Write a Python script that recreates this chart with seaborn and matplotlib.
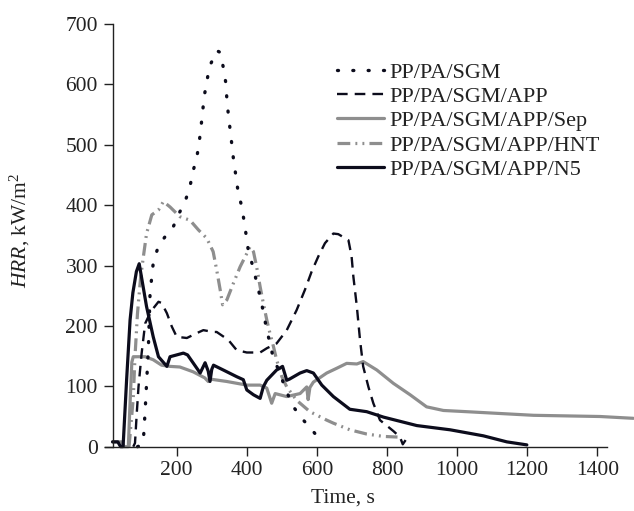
import matplotlib
matplotlib.use("Agg")
import matplotlib.pyplot as plt
import seaborn as sns
import pandas as pd

# Heat release rate curves (time in s, HRR in kW/m2)
sgm_t = [88, 100, 105, 110, 119, 124, 133, 147, 167, 190, 209, 224, 238, 246, 257, 264, 269,
         274, 278, 286, 293, 306, 314, 324, 333, 340, 343, 347, 352, 357, 362, 368, 374, 384,
         392, 398, 404, 417, 428, 438, 447, 455, 466, 476, 495, 509, 533, 557, 590, 605]
sgm_hrr = [0, 3, 11, 60, 160, 254, 304, 331, 348, 364, 389, 406, 431, 455, 478, 503, 528,
           554, 579, 604, 629, 645, 656, 653, 628, 603, 577, 552, 527, 502, 476, 452, 427, 401,
           375, 351, 326, 299, 273, 248, 224, 199, 171, 146, 122, 97, 66, 47, 25, 14]

app_t = [76, 81, 86, 91, 100, 110, 119, 133, 148, 157, 172, 186, 200, 229, 257, 276, 304, 314,
         347, 371, 400, 438, 457, 485, 514, 542, 566, 585, 604, 623, 647, 661, 690, 699, 704,
         714, 723, 732, 747, 761, 780, 818, 837, 845, 852, 858]
app_hrr = [0, 6, 55, 99, 155, 204, 215, 229, 240, 238, 221, 199, 182, 180, 188, 193, 190, 190,
           177, 160, 156, 156, 163, 171, 193, 226, 260, 290, 315, 337, 353, 352, 342, 315, 282,
           232, 177, 133, 99, 72, 44, 26, 16, 4, 10, 15]

sep_t = [17, 44, 50, 62, 66, 72, 76, 110, 133, 157, 181, 209, 247, 280, 290, 295, 343, 400,
         438, 457, 471, 481, 514, 552, 571, 575, 580, 590, 628, 657, 685, 714, 732, 771, 818,
         866, 913, 961, 1027, 1122, 1218, 1313, 1408, 1503]
sep_hrr = [8, 8, 0, 0, 60, 140, 149, 149, 144, 135, 133, 132, 124, 114, 108, 112, 108, 102,
           102, 97, 72, 88, 83, 88, 99, 78, 98, 107, 122, 130, 138, 137, 141, 127, 105,
           86, 66, 60, 58, 55, 52, 51, 50, 47]

hnt_t = [64, 76, 81, 88, 97, 105, 114, 129, 148, 162, 181, 209, 238, 262, 286, 304, 314, 324,
         331, 343, 362, 381, 400, 409, 419, 428, 438, 447, 457, 466, 476, 485, 500, 514, 542,
         580, 628, 647, 694, 742, 790, 830]
hnt_hrr = [0, 80, 149, 220, 280, 315, 353, 384, 392, 406, 397, 381, 375, 359, 345, 323, 293,
           260, 235, 243, 271, 298, 320, 331, 323, 298, 265, 238, 210, 188, 166, 144, 116, 99,
           77, 58, 44, 39, 28, 21, 17, 16]

n5_t = [17, 32, 40, 47, 57, 67, 75, 85, 93, 114, 133, 148, 172, 181, 219, 231, 267, 281, 290,
        295, 300, 305, 333, 371, 390, 400, 419, 438, 447, 457, 485, 502, 514, 522, 552, 571,
        590, 614, 647, 694, 742, 790, 885, 980, 1075, 1142, 1199]
n5_hrr = [8, 8, 0, 0, 110, 210, 255, 290, 303, 232, 182, 149, 133, 149, 155, 152, 122, 139,
          125, 108, 128, 135, 127, 116, 111, 94, 86, 80, 99, 110, 127, 133, 110, 112, 122, 126,
          122, 102, 83, 62, 58, 49, 35, 28, 18, 8, 3]

labels = ["PP/PA/SGM", "PP/PA/SGM/APP", "PP/PA/SGM/APP/Sep",
          "PP/PA/SGM/APP/HNT", "PP/PA/SGM/APP/N5"]
y_ticks = [0, 100, 200, 300, 400, 500, 600, 700]
x_ticks = [200, 400, 600, 800, 1000, 1200, 1400]

BLACK = "#0c0c1c"
GREY = "#8e8e8e"

sns.set_style("ticks")
plt.rcParams["font.family"] = ["Liberation Serif", "DejaVu Serif"]
plt.rcParams["mathtext.fontset"] = "custom"
plt.rcParams["mathtext.rm"] = "Liberation Serif"
plt.rcParams["mathtext.it"] = "Liberation Serif:italic"

fig = plt.figure(figsize=(6.34, 5.11), dpi=100)
ax = fig.add_axes([0.16538, 0.12583, 0.79219, 0.82720])

series = [
    (sep_t, sep_hrr, labels[2], dict(color=GREY, linewidth=2.3, linestyle="-")),
    (hnt_t, hnt_hrr, labels[3], dict(color=GREY, linewidth=2.3,
                                      linestyle=(0, (4.0, 1.6, 0.6, 1.6, 0.6, 1.6)))),
    (n5_t, n5_hrr, labels[4], dict(color=BLACK, linewidth=2.3, linestyle="-")),
    (app_t, app_hrr, labels[1], dict(color=BLACK, linewidth=1.7, linestyle=(0, (4.5, 3.0)))),
    (sgm_t, sgm_hrr, labels[0], dict(color=BLACK, linewidth=2.4, linestyle=(0, (0.3, 4.3)),
                                      dash_capstyle="round")),
]

handles = {}
for t, hrr, lab, style in series:
    df = pd.DataFrame({"Time": t, "HRR": hrr})
    sns.lineplot(data=df, x="Time", y="HRR", ax=ax, estimator=None, sort=False, **style)
    line = ax.get_lines()[-1]
    line.set_clip_on(False)
    handles[lab] = line

ax.set_xlim(-5, 1428)
ax.set_ylim(0, 700)
ax.set_xticks(x_ticks)
ax.set_yticks(y_ticks)
ax.tick_params(axis="both", labelsize=15.5, direction="out", length=6.5, width=1.0,
               color="#222222", labelcolor="#222222", pad=4)
ax.spines["left"].set_position(("data", 17))
for side in ("top", "right"):
    ax.spines[side].set_visible(False)
for side in ("left", "bottom"):
    ax.spines[side].set_linewidth(1.0)
    ax.spines[side].set_color("#222222")

ax.set_xlabel("Time, s", fontsize=15.5, color="#222222")
ax.xaxis.set_label_coords(0.474, -0.098)
ax.set_ylabel(r"$\mathit{HRR}$, kW/m$^{2}$", fontsize=15.5, color="#222222")
ax.yaxis.set_label_coords(-0.145, 0.513)

leg = ax.legend([handles[l] for l in labels], labels, loc="upper left",
                bbox_to_anchor=(337 / 634, (511 - 62) / 511), bbox_transform=fig.transFigure,
                frameon=False, fontsize=16, handlelength=2.1, handletextpad=0.25,
                labelspacing=0.17, borderpad=0, borderaxespad=0)
for txt in leg.get_texts():
    txt.set_color("#222222")

fig.savefig("out.png", dpi=100)
